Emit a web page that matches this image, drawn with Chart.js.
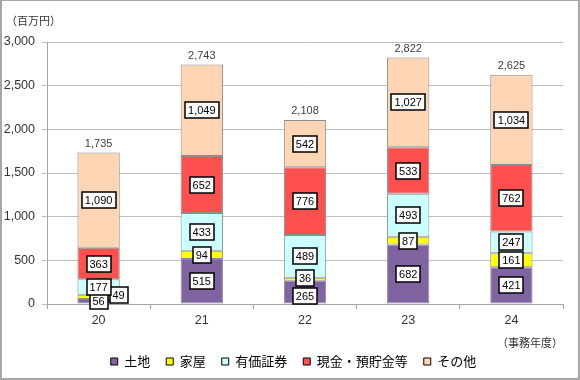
<!DOCTYPE html>
<html>
<head>
<meta charset="utf-8">
<script src="https://cdn.jsdelivr.net/npm/chart.js@4.4.1/dist/chart.umd.min.js"></script>
<style>
    body{ margin:0; background:#fff; }
    #wrap{ width:580px; height:380px; box-sizing:border-box; border:2px solid #a6a6a6; border-top-width:1px; background:#fff; }
    #wrap canvas{ display:block; }
</style>
</head>
<body>
<div id="wrap"><canvas id="id_chart_tax" width="576" height="377"></canvas></div>
<script>
// 事務年度
var arYears = ["20", "21", "22", "23", "24"];
// 百万円
var dataTochi = [56, 515, 265, 682, 421];
var dataKaoku = [49, 94, 36, 87, 161];
var dataYuka = [177, 433, 489, 493, 247];
var dataGenkin = [363, 652, 776, 533, 762];
var dataSonota = [1090, 1049, 542, 1027, 1034];
var yTicks = [0, 500, 1000, 1500, 2000, 2500, 3000];

var numFont = "'Liberation Sans', Arial, sans-serif";
var jpFont = "'Noto Sans CJK JP', sans-serif";

function fmt(v){
    return v.toLocaleString('en-US');
}

// white boxed value inside each segment + total above the bar
var boxLabels = {
    id: 'boxLabels',
    afterDatasetsDraw: function(chart, args, opts){
        var ctx = chart.ctx;
        ctx.save();
        ctx.font = "11px " + numFont;
        ctx.textAlign = "center";
        ctx.textBaseline = "middle";
        chart.data.datasets.forEach(function(ds, di){
            var meta = chart.getDatasetMeta(di);
            meta.data.forEach(function(bar, i){
                var txt = fmt(ds.data[i]);
                var shift = opts.shift[di + '-' + i] || [0, 0];
                var cx = bar.x + shift[0];
                var cy = (bar.y + bar.base) / 2 + shift[1];
                var w = Math.round(ctx.measureText(txt).width + 6);
                var h = 16;
                var bx = Math.round(cx - w/2), by = Math.round(cy - h/2);
                ctx.fillStyle = "#fff";
                ctx.fillRect(bx, by, w, h);
                ctx.strokeStyle = "#000";
                ctx.lineWidth = 1.5;
                ctx.strokeRect(bx, by, w, h);
                ctx.fillStyle = "#000";
                ctx.fillText(txt, cx, by + h/2 + 0.5);
            });
        });
        // totals
        var last = chart.getDatasetMeta(chart.data.datasets.length - 1);
        ctx.fillStyle = "#404040";
        ctx.textBaseline = "bottom";
        arYears.forEach(function(y, i){
            var total = 0;
            chart.data.datasets.forEach(function(ds){ total += ds.data[i]; });
            ctx.fillText(fmt(total), last.data[i].x, last.data[i].y - 3);
        });
        // unit label top-left
        ctx.font = "11px " + jpFont;
        ctx.fillStyle = "#333";
        ctx.textAlign = "left";
        ctx.textBaseline = "middle";
        ctx.fillText(opts.unit, 4, 20);
        ctx.restore();
    }
};

var border = '#8c8c8c';
var config = {
    type: 'bar',
    data: {
        labels: arYears,
        datasets: [
            { label: "土地", data: dataTochi, backgroundColor: '#8064A2' },
            { label: "家屋", data: dataKaoku, backgroundColor: '#FFFF00' },
            { label: "有価証券", data: dataYuka, backgroundColor: '#CCFFFF' },
            { label: "現金・預貯金等", data: dataGenkin, backgroundColor: '#FF5050' },
            { label: "その他", data: dataSonota, backgroundColor: '#FFD5B4' }
        ].map(function(d){
            d.borderColor = border;
            d.borderWidth = 1;
            d.borderSkipped = false;
            d.barPercentage = 0.41;
            d.categoryPercentage = 1;
            return d;
        })
    },
    options: {
        responsive: false,
        animation: false,
        layout: { padding: { top: 41, left: 22, right: 15, bottom: 0 } },
        plugins: {
            legend: {
                position: 'bottom',
                labels: {
                    boxWidth: 7,
                    boxHeight: 7,
                    padding: 16,
                    color: '#333',
                    font: { family: jpFont, size: 13 },
                    generateLabels: function(chart){
                        return chart.data.datasets.map(function(ds, i){
                            return {
                                text: ds.label,
                                fillStyle: ds.backgroundColor,
                                strokeStyle: '#000',
                                lineWidth: 1,
                                datasetIndex: i
                            };
                        });
                    }
                }
            },
            tooltip: { enabled: false },
            boxLabels: {
                unit: "（百万円）",
                shift: { '1-0': [20, -2], '0-2': [0, 4], '1-2': [0, -1.5] }
            }
        },
        scales: {
            x: {
                stacked: true,
                afterFit: function(scale){
                    scale.height = 35;
                },
                grid: { drawOnChartArea: false, drawTicks: true, tickLength: 5, color: '#a6a6a6', offset: true },
                border: { color: '#a6a6a6' },
                ticks: { padding: 4, color: '#333', font: { family: numFont, size: 12.5 } },
                title: {
                    display: true,
                    text: "（事務年度）",
                    align: 'end',
                    color: '#333',
                    font: { family: jpFont, size: 11 },
                    padding: { top: 0, bottom: -10 }
                }
            },
            y: {
                stacked: true,
                min: 0,
                max: 3000,
                afterBuildTicks: function(scale){
                    scale.ticks = yTicks.map(function(v){ return { value: v }; });
                },
                afterFit: function(scale){
                    scale.width = 23;
                    // labels reach past the narrow scale box, so do not clip them
                    scale._computeLabelArea = function(){};
                },
                grid: { color: '#bfbfbf', tickLength: 5 },
                border: { color: '#a6a6a6' },
                ticks: {
                    padding: 7,
                    color: '#333',
                    font: { family: numFont, size: 12.5 },
                    callback: function(v){ return fmt(v); }
                }
            }
        }
    },
    plugins: [boxLabels]
};

var chartTax = new Chart(document.getElementById("id_chart_tax").getContext("2d"), config);
</script>
</body>
</html>
